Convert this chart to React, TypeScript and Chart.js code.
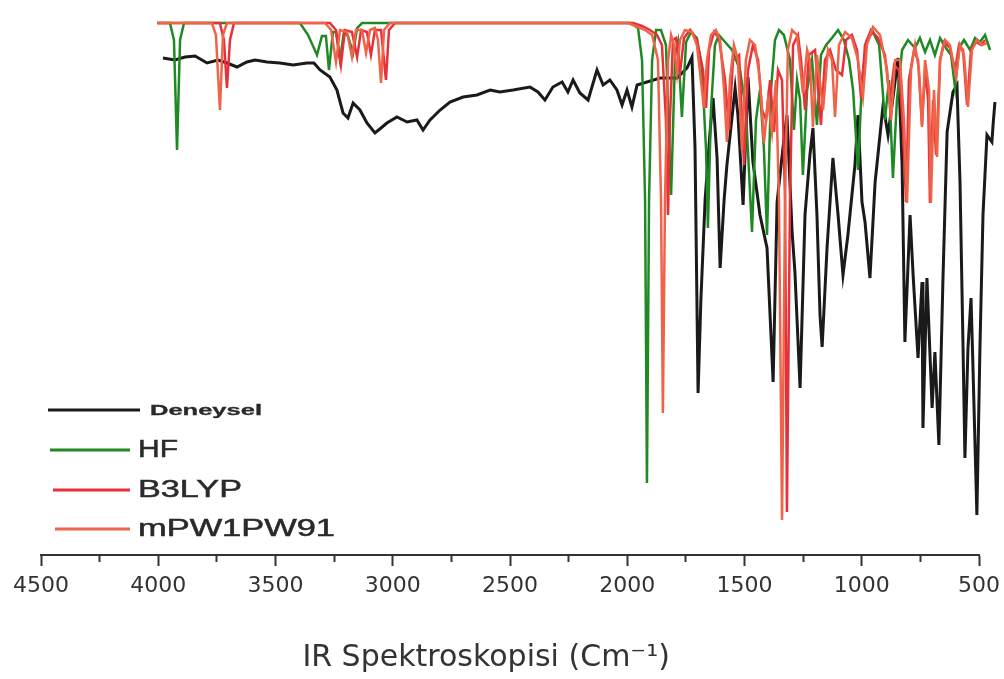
import { useEffect, useRef } from 'react';
import { Chart, registerables } from 'chart.js';

Chart.register(...registerables);

// x-axis ticks (cm-1): labelled every 500, minor marks every 250
const X_TICKS = [500, 750, 1000, 1250, 1500, 1750, 2000, 2250, 2500, 2750, 3000, 3250, 3500, 3750, 4000, 4250, 4500];

const SERIES_LABELS = ['Deneysel', 'HF', 'B3LYP', 'mPW1PW91'];

// Deneysel (experimental) spectrum: wavenumber / transmittance
const DENEYSEL_WN = [3980, 3929, 3886, 3843, 3792, 3745, 3707, 3664, 3622, 3587, 3536, 3481, 3425, 3366, 3336, 3310, 3268, 3238, 3212, 3191, 3169, 3140, 3110, 3076, 3050, 3025, 2982, 2939, 2897, 2871, 2841, 2798, 2756, 2700, 2641, 2585, 2543, 2487, 2415, 2381, 2351, 2317, 2278, 2253, 2231, 2202, 2167, 2129, 2103, 2074, 2044, 2022, 2001, 1980, 1958, 1916, 1860, 1788, 1745, 1724, 1711, 1698, 1686, 1668, 1647, 1634, 1617, 1604, 1587, 1575, 1540, 1528, 1506, 1485, 1464, 1434, 1404, 1378, 1361, 1336, 1319, 1297, 1285, 1263, 1242, 1221, 1208, 1191, 1178, 1169, 1148, 1123, 1101, 1080, 1059, 1029, 1016, 999, 986, 965, 943, 931, 909, 888, 867, 845, 828, 816, 794, 781, 760, 743, 739, 722, 700, 688, 671, 654, 636, 611, 594, 581, 568, 560, 547, 534, 526, 509, 496, 483, 466, 445, 440, 432];
const DENEYSEL_T = [99.4, 99, 99.6, 99.8, 98.4, 99, 98.4, 97.6, 98.6, 99, 98.6, 98.4, 98, 98.4, 98.4, 97, 95.6, 93, 88.4, 87.4, 90.4, 89, 86.4, 84.4, 85.4, 86.4, 87.6, 86.6, 87, 85, 87, 89, 90.6, 91.6, 92, 93, 92.6, 93, 93.6, 92.6, 91, 93.6, 94.6, 92.6, 95, 92.4, 91, 97, 94, 95, 93, 90, 93, 89.6, 94, 94.6, 95.4, 95.4, 97.4, 99.6, 81.4, 32.4, 51, 71, 84.6, 91.4, 79.4, 57.4, 71, 78, 93.4, 88, 70, 95.6, 78.6, 68, 61.4, 34.6, 70.6, 81.4, 88, 64.6, 56.6, 33.4, 68, 80, 85.4, 68, 48, 41.6, 61.4, 79.4, 68, 56, 64, 78, 88, 70.6, 66.6, 55.4, 74.6, 80, 90, 84, 91.4, 99.4, 78, 42.6, 68, 56, 39.4, 54.6, 25.4, 55.4, 29.4, 40.6, 22, 54.6, 84.6, 92.6, 94, 74.6, 41.4, 19.4, 41.4, 51.4, 38, 8, 41.4, 68, 84, 82.6, 86, 90.6];

// HF computed spectrum
const HF_WN = [4005, 3950, 3933, 3920, 3907, 3890, 3396, 3361, 3323, 3302, 3285, 3272, 3255, 3242, 3225, 3208, 3191, 3169, 3152, 3131, 1988, 1954, 1937, 1924, 1916, 1907, 1894, 1877, 1856, 1835, 1813, 1796, 1784, 1767, 1749, 1728, 1703, 1681, 1664, 1656, 1643, 1626, 1609, 1583, 1553, 1519, 1494, 1468, 1451, 1434, 1417, 1404, 1387, 1370, 1353, 1332, 1306, 1289, 1276, 1263, 1251, 1233, 1212, 1191, 1174, 1152, 1127, 1101, 1076, 1054, 1037, 1016, 999, 978, 952, 926, 901, 884, 867, 850, 828, 803, 773, 752, 730, 709, 688, 666, 641, 619, 602, 585, 564, 538, 517, 496, 474, 453];
const HF_T = [106.4, 106.4, 103, 81, 103, 106.4, 106.4, 104, 100, 103.8, 103.8, 97, 104.6, 104.6, 99, 104.6, 103.8, 100.4, 105.4, 106.4, 106.4, 105.4, 99, 71, 14.4, 71, 99, 105, 105, 102, 72, 100, 102.6, 87.6, 102.6, 104.6, 103.4, 97, 81, 65.4, 89, 102, 104, 102.6, 101, 97, 89, 64.6, 87, 93, 81, 64, 93, 103, 105, 104, 99, 85, 95, 91, 76, 93, 99, 86, 100, 102, 103.4, 105, 103, 99, 93, 77, 95, 103, 104.6, 102, 87, 95, 75.4, 91, 101, 103, 101.4, 103.4, 100.6, 103, 100, 103.4, 101.4, 100, 93.4, 101.4, 103, 101, 103.4, 102.6, 104, 101];

// B3LYP computed spectrum
const B3LYP_WN = [4005, 3737, 3720, 3707, 3694, 3677, 3268, 3242, 3221, 3204, 3174, 3152, 3135, 3110, 3093, 3076, 3050, 3029, 3016, 2990, 1975, 1937, 1903, 1873, 1852, 1835, 1826, 1818, 1805, 1792, 1775, 1758, 1732, 1703, 1677, 1664, 1651, 1630, 1609, 1583, 1566, 1549, 1523, 1502, 1485, 1464, 1442, 1425, 1408, 1391, 1374, 1357, 1340, 1327, 1319, 1306, 1293, 1272, 1259, 1242, 1225, 1199, 1174, 1157, 1135, 1110, 1084, 1067, 1042, 1020, 1003, 986, 961, 931, 901, 880, 862, 841, 824, 811, 799, 777, 760, 743, 730, 717, 709, 696, 683, 666, 649, 624, 602, 585, 568, 551, 534, 513, 491, 474];
const B3LYP_T = [106.4, 106.4, 103, 93.4, 103, 106.4, 106.4, 105, 98, 105, 104.6, 99.6, 105, 104.6, 100, 105, 105, 95, 105, 106.4, 106.4, 105.8, 105, 104, 102, 87, 68, 87, 103, 103.4, 96.4, 103.4, 105, 103, 97, 89.4, 101, 104.6, 103.4, 95, 85, 99, 100, 78, 97, 102, 99, 89, 87, 95, 84.6, 97, 95, 71, 8.6, 71, 102, 104, 99, 89, 100, 101, 86, 99, 101, 97, 96, 103, 104, 101, 91.4, 102, 105, 103.4, 100, 91, 98, 97, 85, 70.6, 95, 101, 99, 86, 97, 91, 70.4, 91, 80, 99, 102.6, 101.4, 97, 102, 101, 90, 101, 102.6, 102, 103];

// mPW1PW91 computed spectrum
const MPW_WN = [4005, 3771, 3754, 3737, 3724, 3707, 3289, 3263, 3242, 3225, 3195, 3174, 3157, 3131, 3114, 3097, 3076, 3063, 3050, 3037, 3012, 1997, 1963, 1924, 1894, 1869, 1856, 1848, 1839, 1826, 1813, 1801, 1788, 1775, 1754, 1724, 1703, 1686, 1673, 1660, 1643, 1622, 1604, 1587, 1575, 1562, 1545, 1528, 1511, 1494, 1477, 1455, 1434, 1417, 1400, 1383, 1366, 1353, 1340, 1327, 1315, 1297, 1276, 1251, 1233, 1221, 1208, 1191, 1165, 1144, 1127, 1114, 1097, 1071, 1042, 1016, 995, 978, 952, 922, 892, 875, 858, 837, 820, 807, 790, 773, 756, 743, 730, 713, 705, 692, 679, 666, 645, 624, 598, 581, 564, 547, 530, 509, 487, 466];
const MPW_T = [106.4, 106.4, 104, 89, 104, 106.4, 106.4, 105, 98.6, 105, 104.6, 99.6, 105, 105, 100.4, 105, 105.4, 103, 94.4, 105, 106.4, 106.4, 105.8, 105, 104, 99, 71, 28.4, 71, 99, 104, 102, 96.4, 103, 105, 104.6, 102, 95, 89.4, 99, 104, 105, 103, 93, 82.6, 95, 102, 99, 81, 99, 103, 102, 95, 82.4, 91, 84.6, 95, 71, 7, 71, 101, 105, 104, 92.4, 101, 99, 85.6, 100, 89, 101, 99, 87.6, 102, 104.6, 103.4, 99, 91.6, 102, 105.6, 104, 97, 87, 99, 99, 87, 70.4, 97, 102, 97, 85.6, 99, 93, 70.4, 93, 79.6, 99, 103, 102, 95.6, 102, 100, 89.6, 101, 103, 102, 102.4];

const COLORS = ['#1a1a1a', '#1f8a24', '#e8303a', '#ef6448'];

const pts = (xs: number[], ys: number[]) => xs.map((x, i) => ({ x, y: ys[i] }));

// legend layout (drawn in the lower-left of the plot, like the original)
const LEGEND_LAYOUT = [
  { x1: 48, x2: 140, y: 410, tx: 150, tw: 112, font: 'bold 15px "Liberation Sans"', lw: 3.2, sw: 0.3 },
  { x1: 50, x2: 130, y: 450, tx: 138, tw: 40, font: '23px "Liberation Sans"', lw: 3, sw: 0.5 },
  { x1: 53, x2: 130, y: 490, tx: 138, tw: 104, font: '23px "Liberation Sans"', lw: 3, sw: 0.5 },
  { x1: 55, x2: 130, y: 529, tx: 138, tw: 197, font: '23px "Liberation Sans"', lw: 3, sw: 0.5 },
];

const legendPlugin = {
  id: 'spectraLegend',
  afterDraw(chart: any) {
    const ctx = chart.ctx;
    chart.data.datasets.forEach((ds: any, i: number) => {
      const L = LEGEND_LAYOUT[i];
      ctx.save();
      ctx.strokeStyle = ds.borderColor;
      ctx.lineWidth = L.lw;
      ctx.beginPath();
      ctx.moveTo(L.x1, L.y);
      ctx.lineTo(L.x2, L.y);
      ctx.stroke();
      ctx.font = L.font;
      ctx.fillStyle = '#2a2a2a';
      ctx.strokeStyle = '#2a2a2a';
      ctx.lineWidth = L.sw;
      ctx.textBaseline = 'middle';
      ctx.textAlign = 'left';
      const w = ctx.measureText(ds.label).width;
      ctx.translate(L.tx, L.y + 1);
      ctx.scale(L.tw / w, 1);
      ctx.fillText(ds.label, 0, 0);
      ctx.strokeText(ds.label, 0, 0);
      ctx.restore();
    });
  },
};

export default function App() {
  const ref = useRef<HTMLCanvasElement>(null);
  useEffect(() => {
    const series = [
      pts(DENEYSEL_WN, DENEYSEL_T),
      pts(HF_WN, HF_T),
      pts(B3LYP_WN, B3LYP_T),
      pts(MPW_WN, MPW_T),
    ];
    const widths = [3, 2.5, 2.5, 2.5];
    const orders = [4, 3, 2, 1];
    const chart = new Chart(ref.current as HTMLCanvasElement, {
      type: 'line',
      data: {
        datasets: series.map((data, i) => ({
          label: SERIES_LABELS[i],
          data,
          borderColor: COLORS[i],
          backgroundColor: COLORS[i],
          borderWidth: widths[i],
          pointRadius: 0,
          tension: 0,
          fill: false,
          order: orders[i],
          clip: false,
        })),
      },
      options: {
        responsive: false,
        animation: false,
        events: [],
        layout: { padding: { left: 41, right: 25, top: 20, bottom: 0 } },
        plugins: { legend: { display: false }, tooltip: { enabled: false } },
        scales: {
          x: {
            type: 'linear',
            reverse: true,
            min: 500,
            max: 4500,
            afterBuildTicks: (axis: any) => {
              axis.ticks = X_TICKS.map((v) => ({ value: v }));
            },
            afterFit: (axis: any) => {
              axis.height = 124;
            },
            ticks: {
              autoSkip: false,
              maxRotation: 0,
              padding: 7,
              color: '#333',
              font: { family: 'DejaVu Sans', size: 22 },
              callback: (v: any) => (Number(v) % 500 === 0 ? String(v) : ''),
            },
            grid: {
              drawOnChartArea: false,
              drawTicks: true,
              tickLength: 11,
              tickWidth: 2,
              tickColor: '#333',
              tickBorderDash: (c: any) => (c.tick && c.tick.value % 500 !== 0 ? [6, 30] : []),
            },
            border: { display: true, color: '#333', width: 2 },
            title: {
              display: true,
              text: 'IR Spektroskopisi (Cm\u207B\u00B9)\u00A0\u00A0\u00A0\u00A0\u00A0',
              color: '#333',
              font: { family: 'DejaVu Sans', size: 30 },
              padding: { top: 0, bottom: 3 },
            },
          },
          y: { display: false, min: 0, max: 107 },
        },
      },
      plugins: [legendPlugin],
    } as any);
    return () => chart.destroy();
  }, []);
  return (
    <div style={{ position: 'absolute', left: 0, top: 0, width: 1004, height: 679, background: '#fff' }}>
      <canvas ref={ref} width={1004} height={679} style={{ display: 'block' }} />
    </div>
  );
}
